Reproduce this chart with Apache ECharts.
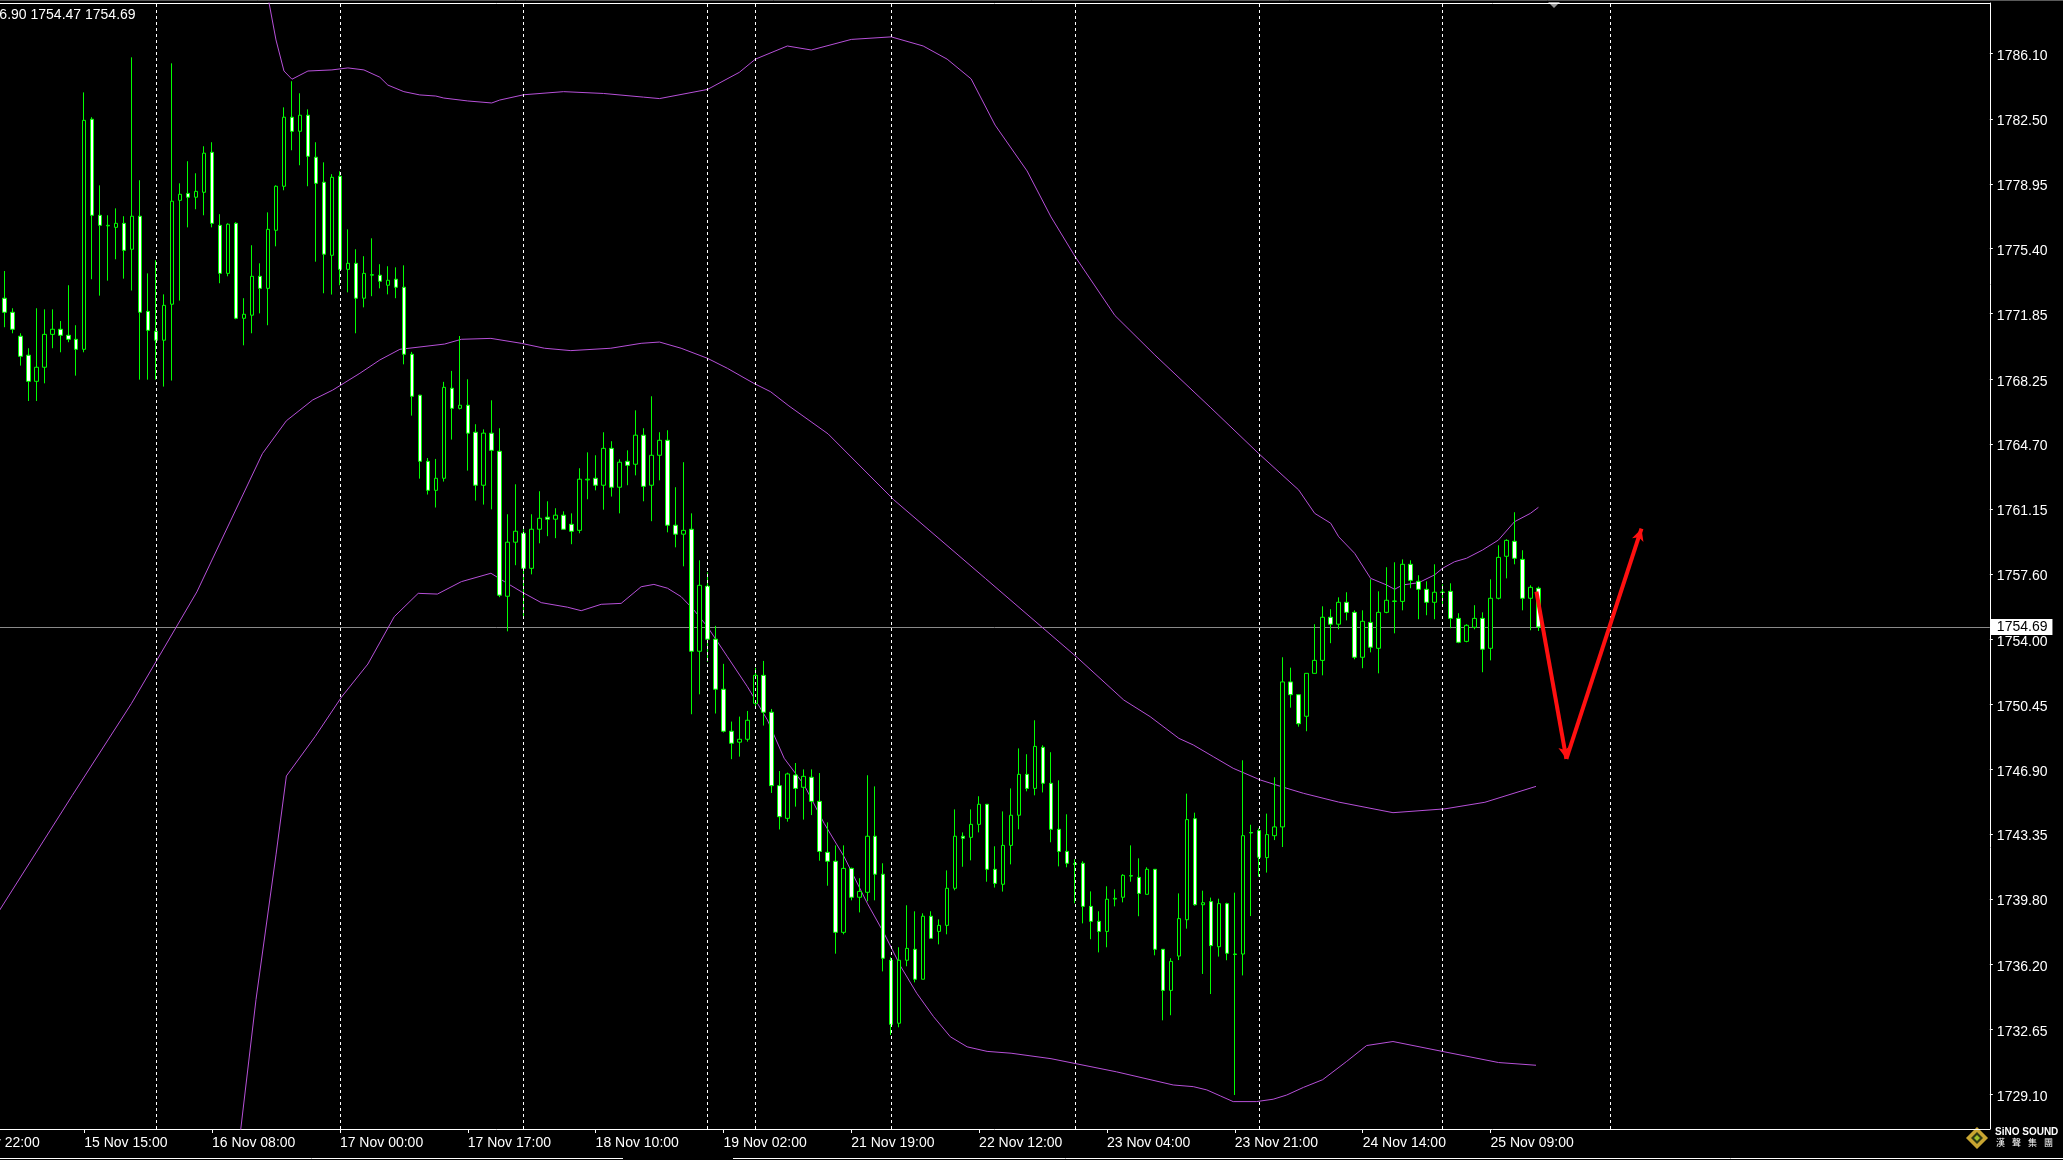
<!DOCTYPE html>
<html><head><meta charset="utf-8">
<script src="https://cdn.jsdelivr.net/npm/echarts@6/dist/echarts.min.js"></script>
<style>html,body{margin:0;padding:0;background:#000;overflow:hidden}#c{width:2063px;height:1160px}</style>
</head><body><div id="c"></div>
<script>
// ---- candle values (H1 bars, bar 0 = first visible bar) ----
const opens = [1772.69,1771.92,1770.61,1769.57,1768.14,1768.91,1770.71,1770.99,1770.66,1770.44,
1769.89,1782.49,1777.23,1776.65,1776.57,1776.79,1775.37,1777.18,1771.97,1770.88,
1770.39,1772.36,1778.05,1778.43,1778.22,1778.49,1780.68,1776.68,1774.05,1776.79,
1771.59,1771.76,1773.89,1773.23,1776.41,1778.82,1782.60,1781.83,1782.71,1780.41,
1779.04,1775.04,1779.37,1774.27,1774.60,1772.69,1773.95,1773.95,1773.40,1773.73,
1773.29,1769.62,1767.38,1763.76,1762.17,1762.83,1767.76,1766.66,1766.83,1765.35,
1762.45,1765.30,1764.31,1756.37,1759.33,1759.82,1757.90,1760.04,1760.70,1760.59,
1760.81,1760.31,1759.98,1762.74,1762.83,1762.45,1764.47,1762.34,1763.76,1763.60,
1765.19,1762.45,1764.09,1764.91,1760.26,1759.77,1760.04,1753.36,1756.92,1754.02,
1751.28,1748.98,1748.38,1748.54,1750.51,1752.04,1750.02,1746.00,1744.21,1746.58,
1745.91,1746.46,1745.14,1742.35,1741.86,1737.97,1741.47,1739.89,1740.16,1743.23,
1741.15,1736.44,1732.99,1736.44,1737.04,1735.40,1738.85,1738.02,1738.35,1740.38,
1743.23,1743.17,1743.88,1744.98,1741.42,1740.60,1742.73,1744.38,1746.62,1745.85,
1748.10,1746.13,1743.61,1742.40,1741.73,1741.75,1739.39,1738.57,1738.02,1739.79,
1739.89,1741.07,1740.98,1740.05,1741.42,1737.04,1734.79,1736.67,1738.66,1744.19,
1739.48,1739.65,1737.18,1739.54,1736.78,1736.78,1743.43,1743.54,1742.06,1743.26,
1743.74,1751.68,1750.98,1749.80,1752.15,1752.86,1755.22,1754.84,1756.04,1755.49,
1753.03,1754.94,1753.52,1755.49,1756.09,1756.09,1758.12,1757.19,1756.75,1756.04,
1756.58,1756.64,1755.16,1753.90,1754.67,1755.16,1753.52,1756.26,1758.56,1759.38,
1758.39,1756.26,1756.81];
const highs = [1774.18,1772.14,1770.77,1769.95,1772.14,1772.08,1772.08,1771.44,1773.40,1771.21,
1783.96,1782.60,1778.87,1777.23,1777.61,1777.18,1785.88,1779.15,1774.05,1774.77,
1772.90,1785.55,1778.98,1780.19,1779.53,1781.01,1781.23,1777.29,1776.79,1776.85,
1772.69,1775.59,1774.60,1777.39,1778.87,1783.14,1784.57,1783.91,1783.03,1781.23,
1780.13,1779.48,1779.64,1776.46,1775.37,1774.99,1775.97,1774.55,1774.44,1774.38,
1774.49,1769.75,1767.40,1763.94,1763.89,1768.11,1768.71,1770.62,1768.25,1765.79,
1765.51,1767.10,1765.57,1760.86,1762.50,1760.04,1760.86,1762.12,1761.57,1761.19,
1761.02,1760.91,1763.38,1764.25,1764.09,1765.35,1764.86,1763.87,1764.36,1766.55,
1765.57,1767.32,1765.35,1765.46,1762.34,1763.71,1760.91,1758.34,1757.68,1754.75,
1752.67,1749.51,1749.78,1750.09,1752.45,1752.83,1750.20,1746.80,1746.71,1747.24,
1746.89,1746.89,1746.69,1743.99,1742.73,1742.73,1741.51,1740.93,1746.57,1745.96,
1741.75,1736.60,1737.15,1739.45,1739.12,1739.01,1739.12,1738.68,1741.36,1744.70,
1743.44,1744.70,1745.42,1744.98,1742.68,1744.59,1745.85,1748.04,1747.72,1749.58,
1748.21,1747.83,1746.29,1744.43,1741.97,1741.86,1740.21,1739.12,1740.49,1740.32,
1741.15,1742.73,1742.02,1741.53,1741.42,1737.04,1736.55,1740.10,1745.56,1744.52,
1740.25,1739.87,1739.81,1739.59,1740.14,1747.39,1743.86,1743.66,1744.47,1746.46,
1753.03,1752.46,1750.98,1752.15,1754.84,1755.82,1755.66,1756.31,1756.59,1755.60,
1755.60,1757.30,1756.64,1757.96,1758.23,1758.39,1758.34,1757.52,1757.19,1758.12,
1757.03,1757.08,1755.44,1754.84,1755.88,1755.49,1757.30,1759.16,1759.49,1760.97,
1758.89,1756.97,1756.90];
const lows = [1771.10,1770.77,1769.00,1767.06,1767.06,1768.03,1769.95,1769.73,1770.28,1768.45,
1769.73,1773.73,1772.83,1773.65,1774.82,1773.76,1773.11,1768.23,1768.23,1768.23,
1767.85,1768.18,1772.56,1776.57,1777.56,1777.23,1776.57,1773.51,1773.89,1771.54,
1770.11,1770.77,1771.86,1771.21,1775.53,1778.60,1780.79,1779.97,1778.82,1774.69,
1772.96,1772.89,1773.40,1773.01,1770.77,1772.19,1772.80,1773.23,1772.90,1772.69,
1769.07,1766.26,1762.81,1761.94,1761.23,1762.65,1764.95,1766.60,1763.25,1761.61,
1761.39,1761.13,1756.32,1754.45,1758.07,1755.22,1757.57,1759.27,1759.66,1759.55,
1760.04,1759.22,1759.82,1761.68,1762.17,1761.11,1761.83,1760.91,1762.45,1762.99,
1761.57,1760.48,1762.72,1759.87,1759.05,1758.01,1749.91,1751.00,1752.79,1749.95,
1748.91,1747.45,1747.59,1748.41,1750.33,1749.29,1745.60,1743.60,1744.03,1744.85,
1744.14,1744.39,1741.89,1740.52,1736.80,1737.86,1739.72,1739.06,1739.67,1739.72,
1735.83,1732.35,1732.77,1736.11,1735.23,1735.40,1737.64,1737.31,1737.86,1740.27,
1741.56,1741.91,1743.44,1740.74,1740.42,1740.20,1741.69,1743.61,1745.69,1745.47,
1745.63,1742.90,1741.58,1741.53,1739.56,1738.46,1737.59,1736.87,1737.15,1739.39,
1739.61,1740.74,1738.85,1740.05,1736.71,1733.15,1733.43,1736.45,1738.17,1739.43,
1735.69,1734.59,1736.64,1736.44,1729.06,1735.61,1738.86,1741.02,1741.24,1743.02,
1742.64,1750.27,1749.23,1748.98,1752.15,1752.04,1753.80,1754.56,1755.05,1752.92,
1752.43,1753.30,1752.15,1755.44,1754.34,1755.60,1756.81,1755.11,1755.33,1755.11,
1755.82,1754.62,1753.80,1753.85,1754.56,1752.21,1752.86,1756.20,1757.35,1758.12,
1755.60,1754.51,1754.47];
const closes = [1771.92,1770.99,1769.51,1768.14,1768.91,1770.71,1770.99,1770.66,1770.44,1769.89,
1782.43,1777.23,1776.68,1776.68,1776.79,1775.31,1777.18,1771.92,1770.93,1770.39,
1772.30,1778.00,1778.38,1778.22,1778.54,1780.63,1776.79,1774.05,1776.74,1771.59,
1771.81,1773.89,1773.23,1776.46,1778.82,1782.60,1781.83,1782.71,1780.46,1778.98,
1775.10,1779.31,1774.27,1774.60,1772.69,1774.05,1773.98,1773.62,1773.67,1773.29,
1769.62,1767.32,1763.76,1762.17,1762.83,1767.81,1766.66,1766.83,1765.30,1762.45,
1765.30,1764.36,1756.43,1759.33,1759.93,1757.90,1760.04,1760.64,1760.59,1760.81,
1760.04,1759.93,1762.78,1762.78,1762.45,1764.47,1762.34,1763.71,1763.54,1765.19,
1762.39,1764.09,1764.91,1760.26,1759.77,1759.98,1753.36,1756.97,1754.02,1751.28,
1748.98,1748.32,1748.54,1749.58,1752.04,1750.02,1746.00,1744.30,1746.64,1745.85,
1746.51,1745.14,1742.40,1741.86,1737.97,1741.47,1739.89,1740.21,1743.23,1741.15,
1736.55,1732.93,1736.44,1737.09,1735.40,1738.85,1737.64,1738.35,1740.38,1743.23,
1743.12,1743.88,1744.98,1741.42,1740.65,1742.73,1744.38,1746.62,1745.85,1748.15,
1746.13,1743.61,1742.40,1741.75,1741.69,1739.39,1738.57,1738.02,1739.78,1739.83,
1741.09,1741.05,1740.10,1741.42,1737.04,1734.79,1736.38,1738.72,1744.14,1739.48,
1739.59,1737.24,1739.54,1736.82,1736.76,1743.26,1743.41,1742.08,1743.32,1743.74,
1751.68,1750.98,1749.39,1752.15,1752.86,1755.22,1754.84,1756.04,1755.49,1753.03,
1755.00,1753.58,1755.49,1756.15,1756.11,1758.12,1757.24,1756.75,1756.04,1756.59,
1756.60,1755.16,1753.85,1754.78,1755.16,1753.47,1756.26,1758.50,1759.43,1758.45,
1756.26,1756.86,1754.69];

// ---- Bollinger-style bands [bar, price] ----
const upperBand = [[30,1797.0],[32,1791.5],[34,1786.83],[35,1785.13],[36,1784.68],[38,1785.13],[41,1785.19],[43,1785.30],[45,1785.19],[47,1784.79],[48,1784.36],[50,1784.00],[52,1783.82],[54,1783.76],[55,1783.65],[58,1783.49],[61,1783.38],[62,1783.54],[65,1783.83],[70,1784.0],[75,1783.9],[80,1783.7],[82,1783.62],[88,1784.12],[92,1785.06],[94,1785.78],[98,1786.50],[101,1786.28],[106,1786.86],[111,1787.00],[115,1786.50],[118,1785.78],[121,1784.70],[124,1782.17],[128,1779.66],[131,1777.14],[134,1774.98],[139,1771.74],[144,1769.58],[151,1766.69],[157,1764.18],[162,1762.19],[164,1760.91],[166,1760.37],[167,1759.63],[169,1758.72],[171,1757.35],[173,1756.99],[174,1756.75],[175,1756.99],[177,1757.11],[179,1757.54],[180,1757.90],[181.5,1758.26],[183,1758.45],[185,1758.90],[187,1759.45],[189,1760.45],[191,1760.91],[192,1761.24]];
const middleBand = [[-1,1738.9],[8.5,1745.46],[15.9,1750.49],[24.1,1756.61],[32.3,1764.18],[35.3,1765.98],[38.6,1767.12],[41.1,1767.66],[44.5,1768.58],[47,1769.31],[49.5,1769.89],[55.1,1770.18],[57.2,1770.44],[60.9,1770.49],[64.7,1770.22],[67.6,1769.95],[70.9,1769.82],[75.9,1769.95],[79.7,1770.22],[82,1770.29],[84.7,1769.95],[88,1769.40],[90.5,1768.85],[93.8,1768.03],[95.9,1767.57],[98.2,1766.79],[103.1,1765.26],[111.3,1761.66],[122.8,1757.34],[134.3,1753.01],[140.1,1750.69],[143.4,1749.78],[147,1748.59],[148.8,1748.23],[151.3,1747.59],[153.8,1746.95],[157.2,1746.31],[160.1,1745.91],[162.6,1745.58],[167,1745.1],[173.8,1744.52],[180.3,1744.73],[185.3,1745.09],[191.7,1745.96]];
const lowerBand = [[29,1725.0],[31.5,1734.29],[34,1742.21],[35.3,1746.53],[38.9,1748.69],[42.2,1750.85],[45.5,1752.66],[48.8,1755.25],[51.8,1756.53],[54.2,1756.49],[57.2,1757.17],[60.9,1757.63],[62.6,1757.17],[64.7,1756.62],[67.2,1756.02],[70.5,1755.77],[72.2,1755.58],[74.7,1755.93],[77.2,1755.98],[79.7,1756.89],[81.3,1757.02],[83,1756.81],[84.7,1756.35],[86.3,1755.62],[88,1754.70],[90.5,1753.06],[93,1751.42],[95.5,1749.60],[97.6,1747.50],[100.1,1746.04],[102.6,1743.94],[105.1,1742.11],[108,1739.56],[110.1,1737.92],[112.2,1736.09],[114.2,1734.63],[116.3,1733.35],[118.4,1732.25],[120.5,1731.7],[123,1731.45],[126,1731.35],[131,1731.05],[139.2,1730.33],[146.3,1729.61],[148.8,1729.52],[150.5,1729.34],[152.2,1729.01],[153.8,1728.70],[156.7,1728.70],[158.8,1728.83],[160.5,1729.06],[162.6,1729.48],[165,1729.9],[168,1730.9],[170.5,1731.77],[173.8,1731.99],[180.3,1731.42],[187,1730.84],[191.7,1730.69]];

// ---- axes / annotations ----
const timeLabels = [[-6,'14 Nov 22:00'],[10,'15 Nov 15:00'],[26,'16 Nov 08:00'],[42,'17 Nov 00:00'],[58,'17 Nov 17:00'],[74,'18 Nov 10:00'],[90,'19 Nov 02:00'],[106,'21 Nov 19:00'],[122,'22 Nov 12:00'],[138,'23 Nov 04:00'],[154,'23 Nov 21:00'],[170,'24 Nov 14:00'],[186,'25 Nov 09:00']];
const priceTicks = [1729.10,1732.65,1736.20,1739.80,1743.35,1746.90,1750.45,1754.00,1757.60,1761.15,1764.70,1768.25,1771.85,1775.40,1778.95,1782.50,1786.10];
const daySeparators = [19,42,65,88,94,111,134,157,180,201];
const lastPrice = 1754.69;
const arrowPath = [[191.75,1756.62],[195.5,1747.47],[204.9,1760.07]];
const headerText = '1756.90 1754.47 1754.69';

const LEAD = 6, SLOTS = 255;
const BAND = 7.99;
const gridLeft = 4.33 - (LEAD + 0.5) * BAND;
const gridWidth = SLOTS * BAND;

const labelMap = {};
timeLabels.forEach(t => { labelMap[t[0]] = t[1]; });
const cats = [], candles = [];
for (let i = 0; i < SLOTS; i++) {
  const b = i - LEAD;
  cats.push(String(b));
  if (b >= 0 && b < opens.length) candles.push([opens[b], closes[b], lows[b], highs[b]]);
  else candles.push('-');
}

const FONT = 'Liberation Sans';
const chart = echarts.init(document.getElementById('c'), null, {renderer: 'canvas'});
chart.setOption({
  backgroundColor: '#000000',
  animation: false,
  grid: {left: gridLeft, width: gridWidth, top: 3, bottom: 31, containLabel: false, outerBoundsMode: 'none'},
  xAxis: [{
    type: 'category', data: cats, boundaryGap: true, position: 'bottom',
    axisLine: {show: true, onZero: false, lineStyle: {color: '#ffffff', width: 1}},
    axisTick: {show: true, alignWithLabel: true, length: 4, lineStyle: {color: '#ffffff'},
      interval: (idx) => labelMap[idx - LEAD] !== undefined},
    axisLabel: {show: true, interval: (idx) => labelMap[idx - LEAD] !== undefined,
      formatter: (v) => labelMap[+v] || '', align: 'left', color: '#ffffff',
      fontSize: 14, fontFamily: FONT, margin: 7, hideOverlap: false},
    splitLine: {show: false}
  }, {
    type: 'value', min: -LEAD - 0.5, max: SLOTS - LEAD - 0.5, position: 'top',
    axisLine: {show: true, onZero: false, lineStyle: {color: '#ffffff', width: 1}},
    axisTick: {show: false}, axisLabel: {show: false}, splitLine: {show: false}
  }],
  yAxis: [{
    type: 'value', position: 'right', min: 1727.20, max: 1788.854,
    axisLine: {show: true, onZero: false, lineStyle: {color: '#ffffff', width: 1}},
    axisTick: {show: true, length: 3, customValues: priceTicks, lineStyle: {color: '#ffffff'}},
    axisLabel: {show: true, customValues: priceTicks, formatter: (v) => '{p|' + Number(v).toFixed(2) + '}',
      color: '#ffffff', fontSize: 14, fontFamily: FONT, margin: 7,
      rich: {p: {color: '#ffffff', fontSize: 14, fontFamily: FONT, padding: [5, 0, 0, 0]}}},
    splitLine: {show: false}
  }],
  series: [
    {
      name: 'separators', type: 'line', xAxisIndex: 1, yAxisIndex: 0, data: [],
      markLine: {silent: true, symbol: ['none', 'none'], label: {show: false},
        lineStyle: {color: '#ffffff', type: [3, 3], width: 1},
        data: daySeparators.map(b => ({xAxis: b}))}
    },
    {
      name: 'upper', type: 'line', xAxisIndex: 1, data: upperBand, showSymbol: false, clip: true,
      lineStyle: {color: '#b650d8', width: 1}, z: 3
    },
    {
      name: 'middle', type: 'line', xAxisIndex: 1, data: middleBand, showSymbol: false, clip: true,
      lineStyle: {color: '#b650d8', width: 1}, z: 3
    },
    {
      name: 'lower', type: 'line', xAxisIndex: 1, data: lowerBand, showSymbol: false, clip: true,
      lineStyle: {color: '#b650d8', width: 1}, z: 3
    },
    {
      name: 'GOLD', type: 'candlestick', xAxisIndex: 0, yAxisIndex: 0, data: candles,
      barWidth: 4, z: 4,
      itemStyle: {color: '#000000', color0: '#ffffff', borderColor: '#00ff00', borderColor0: '#00ff00', borderWidth: 1},
      markLine: {silent: true, symbol: ['none', 'none'], z: 2,
        lineStyle: {color: '#8a8a8a', type: 'solid', width: 1},
        label: {show: true, position: 'end', distance: 1, formatter: lastPrice.toFixed(2),
          color: '#000000', backgroundColor: '#ffffff', fontSize: 14, fontFamily: FONT,
          padding: [1, 5, 0, 6], lineHeight: 15},
        data: [{yAxis: lastPrice}]}
    },
    {
      name: 'arrow', type: 'line', xAxisIndex: 1, data: [], z: 6,
      markLine: {silent: true, symbol: ['none', 'arrow'], symbolSize: [9, 12], label: {show: false},
        lineStyle: {color: '#ff1010', width: 4, type: 'solid'},
        data: [
          [{coord: arrowPath[0]}, {coord: arrowPath[1]}],
          [{coord: arrowPath[1]}, {coord: arrowPath[2]}]
        ]}
    }
  ],
  graphic: [
    {type: 'text', left: -24, top: 8, z: 10, style: {text: headerText, fill: '#ffffff', font: '14px "Liberation Sans"'}},
    {type: 'line', shape: {x1: 0, y1: 0.5, x2: 2063, y2: 0.5}, style: {stroke: '#5a5a5a', lineWidth: 1}},
    {type: 'polygon', shape: {points: [[1548, 2], [1560, 2], [1554, 8]]}, style: {fill: '#9a9a9a'}},
    {type: 'polyline', shape: {points: [[0, 1158.5], [623, 1158.5]]}, style: {stroke: '#ffffff', lineWidth: 1}},
    {type: 'polyline', shape: {points: [[733, 1158.5], [2063, 1158.5]]}, style: {stroke: '#ffffff', lineWidth: 1}},
    {type: 'polygon', shape: {points: [[1977, 1127], [1988, 1138], [1977, 1149], [1966, 1138]]}, style: {fill: '#c9a531', stroke: '#6b5a1c', lineWidth: 1}},
    {type: 'polygon', shape: {points: [[1977, 1132], [1983, 1138], [1977, 1144], [1971, 1138]]}, style: {fill: '#2f3a12'}},
    {type: 'polygon', shape: {points: [[1977, 1135], [1980, 1138], [1977, 1141], [1974, 1138]]}, style: {fill: '#9fc02a'}},
    {type: 'text', left: 1995, top: 1127, style: {text: 'SiNO SOUND', fill: '#ffffff', font: 'bold 10px "Liberation Sans"'}},
    {type: 'text', left: 1996, top: 1138, style: {text: '漢', fill: '#ffffff', font: '9px "Noto Sans CJK TC"'}},
    {type: 'text', left: 2012, top: 1138, style: {text: '聲', fill: '#ffffff', font: '9px "Noto Sans CJK TC"'}},
    {type: 'text', left: 2028, top: 1138, style: {text: '集', fill: '#ffffff', font: '9px "Noto Sans CJK TC"'}},
    {type: 'text', left: 2044, top: 1138, style: {text: '團', fill: '#ffffff', font: '9px "Noto Sans CJK TC"'}}
  ]
});
</script></body></html>
